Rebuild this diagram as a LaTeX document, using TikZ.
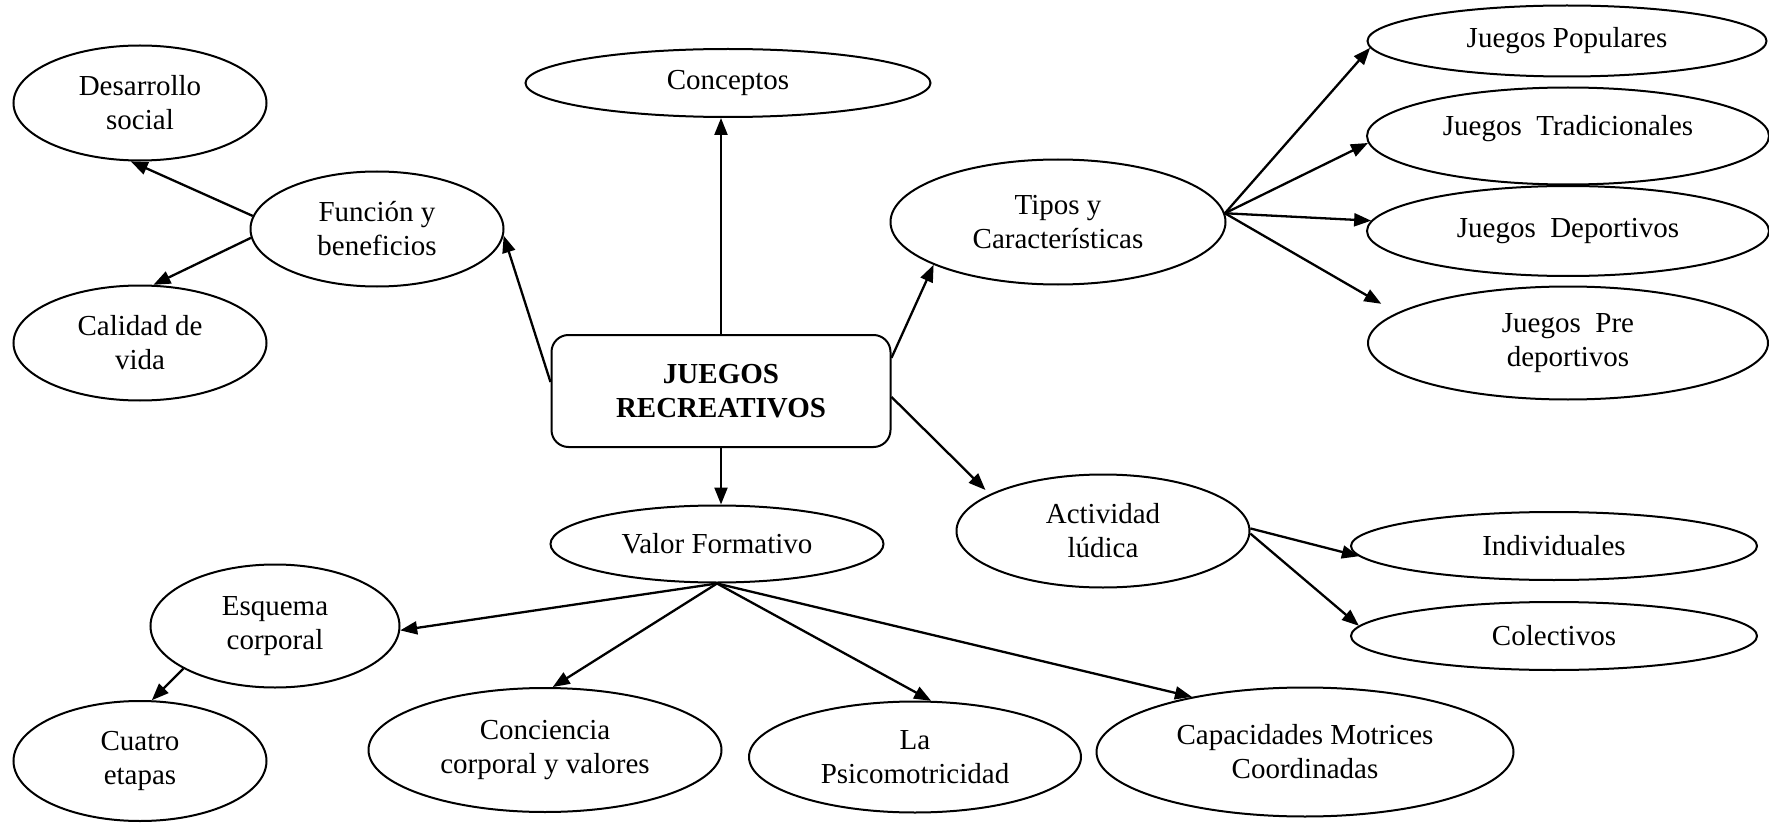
\documentclass[tikz,border=0pt]{standalone}
\usepackage{fontspec}
\setmainfont{Liberation Serif}
\usetikzlibrary{shapes.geometric,arrows.meta}
\begin{document}
\begin{tikzpicture}[x=0.5pt,y=-0.5pt,
  txt/.style={font=\fontsize{14.5}{17}\selectfont, align=center, inner sep=0pt},
  el/.style={txt, ellipse, draw, line width=1pt},
  box/.style={txt, rectangle, rounded corners=8.5pt, draw, line width=1pt},
  arr/.style={-{Triangle[length=8.5pt,width=6.5pt]}, line width=1.15pt}]
\useasboundingbox (0,0) rectangle (1769,824);
\node[el, minimum width=126.5pt, minimum height=57.5pt] (des) at (140,103) {Desarrollo\\social};
\node[el, minimum width=126.5pt, minimum height=57.5pt] (fun) at (377,229) {Función y\\beneficios};
\node[el, minimum width=126.5pt, minimum height=57.5pt] (cal) at (140,343) {Calidad de\\vida};
\node[el, minimum width=202.5pt, minimum height=34pt] (cpt) at (728,83) {Conceptos};
\node[box, minimum width=169.5pt, minimum height=56pt] (jr) at (721,391) {\bfseries JUEGOS\\\bfseries RECREATIVOS};
\node[el, minimum width=167.5pt, minimum height=62.5pt] (tip) at (1058,222) {Tipos y\\Características};
\node[el, minimum width=199.5pt, minimum height=35.5pt] (jpo) at (1567,41) {Juegos Populares};
\node[el, minimum width=201pt, minimum height=48.5pt] (jtr) at (1568,136) {\raisebox{3.5pt}[\height][\depth]{Juegos\ \ Tradicionales}};
\node[el, minimum width=201pt, minimum height=45pt] (jde) at (1568,231) {Juegos\ \ Deportivos};
\node[el, minimum width=200pt, minimum height=56.5pt] (jpd) at (1568,343) {Juegos\ \ Pre\\deportivos};
\node[el, minimum width=146.5pt, minimum height=56.5pt] (act) at (1103,531) {Actividad\\lúdica};
\node[el, minimum width=203pt, minimum height=34pt] (ind) at (1554,546) {Individuales};
\node[el, minimum width=203pt, minimum height=34pt] (col) at (1554,636) {Colectivos};
\node[el, minimum width=166.5pt, minimum height=38.5pt] (vf) at (717,544) {Valor Formativo};
\node[el, minimum width=124.5pt, minimum height=61.5pt] (esq) at (275,626) {Esquema\\corporal};
\node[el, minimum width=126.5pt, minimum height=60pt] (cua) at (140,761) {Cuatro\\etapas};
\node[el, minimum width=176.5pt, minimum height=62pt] (con) at (545,750) {Conciencia\\corporal y valores};
\node[el, minimum width=166pt, minimum height=55.5pt] (psi) at (915,757) {La\\Psicomotricidad};
\node[el, minimum width=208.5pt, minimum height=64.5pt] (cap) at (1305,752) {Capacidades Motrices\\Coordinadas};
\draw[arr] (fun.174) -- (des.261);
\draw[arr] (fun.184) -- (cal.77);
\draw[arr] (jr.177) -- (fun.-3);
\draw[arr] (jr.north) -- (jr.north |- cpt.south);
\draw[arr] (jr.11) -- (tip.199);
\draw[arr, shorten >=3pt] (jr.-2) -- (act.162);
\draw[arr] (jr.south) -- (jr.south |- vf.north);
\draw[arr] (tip.3) -- (jpo.182);
\draw[arr] (tip.3) -- (jtr.182);
\draw[arr] (tip.3) -- (jde.177.5);
\draw[arr, shorten >=9pt] (tip.3) -- (jpd.170.6);
\draw[arr] (act.1) -- (ind.183);
\draw[arr] (act.-1) -- (col.177);
\draw[arr] (vf.south) -- (esq.-2);
\draw[arr] (vf.south) -- (con.83);
\draw[arr] (vf.south) -- (psi.74);
\draw[arr] (vf.south) -- (cap.154);
\draw[arr] (esq.205) -- (cua.79);
\end{tikzpicture}
\end{document}
